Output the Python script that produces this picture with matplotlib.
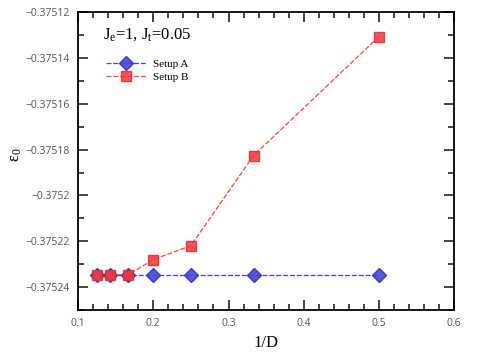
import matplotlib
matplotlib.use("Agg")
import matplotlib.pyplot as plt
from matplotlib.ticker import MultipleLocator, FuncFormatter

plt.rcParams['mathtext.fontset'] = 'custom'
plt.rcParams['mathtext.rm'] = 'Liberation Serif'
plt.rcParams['mathtext.it'] = 'Liberation Serif:italic'

x = [1/8, 1/7, 1/6, 1/5, 1/4, 1/3, 1/2]
setup_a = [-0.3752346, -0.3752346, -0.3752346, -0.3752346, -0.3752346, -0.3752346, -0.3752346]
setup_b = [-0.3752346, -0.3752346, -0.3752346, -0.375228, -0.3752219, -0.3751826, -0.3751307]

fig = plt.figure(figsize=(4.91, 3.62), dpi=100)
ax = fig.add_axes([0.159, 0.1436, 0.766, 0.823])

ax.plot(x, setup_a, linestyle=(0, (4, 1.5)), color='#2b2bff', lw=0.9,
        marker='D', ms=7, mfc='#4444dd', mec='#3333bb', alpha=0.9, label='Setup A')
ax.plot(x, setup_b, linestyle=(0, (4, 1.5)), color='#ff2020', lw=0.9,
        marker='s', ms=7, mfc='#ff3333', mec='#cc3333', alpha=0.85, label='Setup B')

ax.set_xlim(0.1, 0.6)
ax.set_ylim(-0.37525, -0.37512)
ax.xaxis.set_major_locator(MultipleLocator(0.1))
ax.xaxis.set_minor_locator(MultipleLocator(0.02))
ax.yaxis.set_major_locator(MultipleLocator(0.00002))
ax.yaxis.set_minor_locator(MultipleLocator(0.00001))

def yfmt(v, pos):
    s = f"{v:.5f}".rstrip('0')
    return s.replace('-', '\u2212')
ax.yaxis.set_major_formatter(FuncFormatter(yfmt))
ax.xaxis.set_major_formatter(FuncFormatter(lambda v, p: f"{v:.1f}"))

ax.tick_params(which='both', direction='in', top=True, right=True,
               labelsize=7.5, labelcolor='#555555', width=1.2, color='#222222')
ax.tick_params(which='major', length=7, pad=6)
ax.tick_params(which='minor', length=4)
for t in ax.get_xticklabels() + ax.get_yticklabels():
    t.set_family('Open Sans')
for s in ax.spines.values():
    s.set_linewidth(1.3)

ax.set_xlabel('1/D', family='Liberation Serif', fontsize=12, labelpad=4)
ax.set_ylabel(r'$\mathrm{ε_0}$', fontsize=12)
ax.yaxis.set_label_coords(-0.145, 0.52)

ax.text(0.066, 0.925, r'J$_\mathrm{e}$=1, J$_\mathrm{t}$=0.05', transform=ax.transAxes,
        family='Liberation Serif', fontsize=12, va='center', ha='left')
ax.legend(loc='upper left', bbox_to_anchor=(0.06, 0.862), frameon=False,
          prop={'family': 'Liberation Serif', 'size': 8},
          handlelength=3.6, labelspacing=0.3, handletextpad=0.6, borderpad=0)

fig.savefig('out.png', dpi=100)
